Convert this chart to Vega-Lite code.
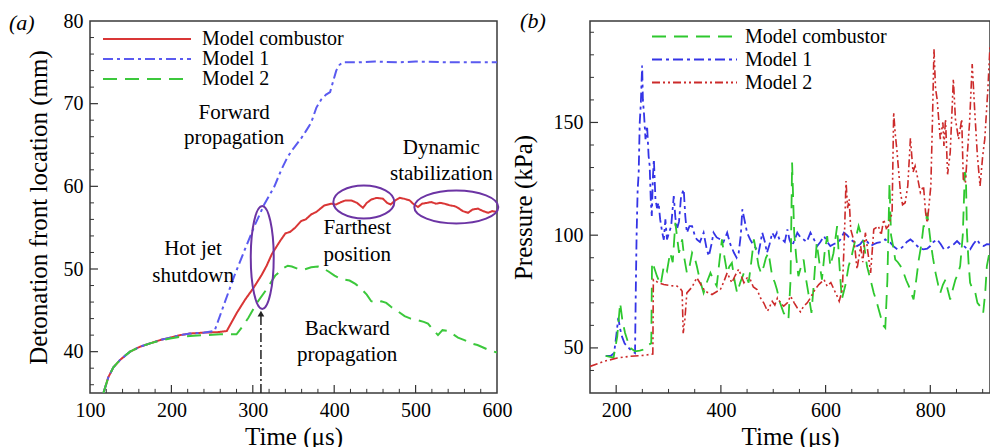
{
  "$schema": "https://vega.github.io/schema/vega-lite/v6.json",
  "padding": {"left": 8, "top": 9, "right": 0, "bottom": 0},
  "config": {
    "font": "Liberation Serif",
    "view": {"stroke": "#3a3a3a", "strokeWidth": 1.5},
    "axis": {
      "grid": false,
      "ticks": false,
      "domain": false,
      "labelFont": "Liberation Serif",
      "labelFontSize": 20,
      "labelColor": "black",
      "labelOverlap": false,
      "labelFlush": false,
      "labelPadding": 7,
      "titleFont": "Liberation Serif",
      "titleFontSize": 25,
      "titleFontWeight": "normal",
      "titleColor": "black"
    },
    "legend": {
      "labelFont": "Liberation Serif",
      "labelFontSize": 20,
      "labelColor": "black",
      "symbolStrokeWidth": 2,
      "symbolType": "stroke",
      "rowPadding": 0,
      "padding": 0
    }
  },
  "datasets": {
    "a_x_major": [{"t": 200}, {"t": 300}, {"t": 400}, {"t": 500}],
    "a_x_minor": [{"t": 120}, {"t": 140}, {"t": 160}, {"t": 180}, {"t": 220}, {"t": 240}, {"t": 260}, {"t": 280}, {"t": 320}, {"t": 340}, {"t": 360}, {"t": 380}, {"t": 420}, {"t": 440}, {"t": 460}, {"t": 480}, {"t": 520}, {"t": 540}, {"t": 560}, {"t": 580}],
    "a_y_major": [{"v": 40}, {"v": 50}, {"v": 60}, {"v": 70}],
    "a_y_minor": [{"v": 36}, {"v": 38}, {"v": 42}, {"v": 44}, {"v": 46}, {"v": 48}, {"v": 52}, {"v": 54}, {"v": 56}, {"v": 58}, {"v": 62}, {"v": 64}, {"v": 66}, {"v": 68}, {"v": 72}, {"v": 74}, {"v": 76}, {"v": 78}],
    "b_x_major": [{"t": 200}, {"t": 400}, {"t": 600}, {"t": 800}],
    "b_x_minor": [{"t": 250}, {"t": 300}, {"t": 350}, {"t": 450}, {"t": 500}, {"t": 550}, {"t": 650}, {"t": 700}, {"t": 750}, {"t": 850}, {"t": 900}],
    "b_y_major": [{"p": 50}, {"p": 100}, {"p": 150}],
    "b_y_minor": [{"p": 40}, {"p": 60}, {"p": 70}, {"p": 80}, {"p": 90}, {"p": 110}, {"p": 120}, {"p": 130}, {"p": 140}, {"p": 160}, {"p": 170}, {"p": 180}, {"p": 190}],
    "front": [
      {"series": "Model combustor", "t": 116.5, "v": 35.0},
      {"series": "Model combustor", "t": 122.5, "v": 36.9},
      {"series": "Model combustor", "t": 128.7, "v": 38.1},
      {"series": "Model combustor", "t": 136.9, "v": 39.0},
      {"series": "Model combustor", "t": 149.2, "v": 40.0},
      {"series": "Model combustor", "t": 161.5, "v": 40.6},
      {"series": "Model combustor", "t": 173.8, "v": 41.0},
      {"series": "Model combustor", "t": 186.1, "v": 41.4},
      {"series": "Model combustor", "t": 198.4, "v": 41.7},
      {"series": "Model combustor", "t": 210.7, "v": 42.0},
      {"series": "Model combustor", "t": 223, "v": 42.2},
      {"series": "Model combustor", "t": 239.4, "v": 42.3},
      {"series": "Model combustor", "t": 255.8, "v": 42.35},
      {"series": "Model combustor", "t": 268, "v": 42.5},
      {"series": "Model combustor", "t": 280.4, "v": 44.7},
      {"series": "Model combustor", "t": 290.6, "v": 46.3},
      {"series": "Model combustor", "t": 300.8, "v": 47.7},
      {"series": "Model combustor", "t": 311, "v": 49.3},
      {"series": "Model combustor", "t": 317, "v": 50.4},
      {"series": "Model combustor", "t": 323.4, "v": 51.8},
      {"series": "Model combustor", "t": 333.6, "v": 53.4},
      {"series": "Model combustor", "t": 340, "v": 54.3},
      {"series": "Model combustor", "t": 346, "v": 54.5},
      {"series": "Model combustor", "t": 352, "v": 55.0},
      {"series": "Model combustor", "t": 359.4, "v": 55.8},
      {"series": "Model combustor", "t": 365, "v": 56.0},
      {"series": "Model combustor", "t": 371.7, "v": 56.6},
      {"series": "Model combustor", "t": 378, "v": 56.9},
      {"series": "Model combustor", "t": 388, "v": 57.7},
      {"series": "Model combustor", "t": 396.3, "v": 57.9},
      {"series": "Model combustor", "t": 402, "v": 57.8},
      {"series": "Model combustor", "t": 408.6, "v": 58.1},
      {"series": "Model combustor", "t": 414, "v": 58.3},
      {"series": "Model combustor", "t": 420.9, "v": 58.3},
      {"series": "Model combustor", "t": 428, "v": 58.0},
      {"series": "Model combustor", "t": 435.3, "v": 57.4},
      {"series": "Model combustor", "t": 440, "v": 58.0},
      {"series": "Model combustor", "t": 445.5, "v": 58.4},
      {"series": "Model combustor", "t": 452, "v": 58.6},
      {"series": "Model combustor", "t": 459.9, "v": 58.5},
      {"series": "Model combustor", "t": 465, "v": 58.0},
      {"series": "Model combustor", "t": 469.3, "v": 57.8},
      {"series": "Model combustor", "t": 475, "v": 58.3},
      {"series": "Model combustor", "t": 480.4, "v": 58.6},
      {"series": "Model combustor", "t": 486, "v": 58.5},
      {"series": "Model combustor", "t": 492.6, "v": 58.3},
      {"series": "Model combustor", "t": 498, "v": 57.8},
      {"series": "Model combustor", "t": 502.9, "v": 57.5},
      {"series": "Model combustor", "t": 508, "v": 57.9},
      {"series": "Model combustor", "t": 514, "v": 58.0},
      {"series": "Model combustor", "t": 519.3, "v": 58.1},
      {"series": "Model combustor", "t": 525, "v": 57.9},
      {"series": "Model combustor", "t": 530, "v": 58.0},
      {"series": "Model combustor", "t": 535.7, "v": 57.9},
      {"series": "Model combustor", "t": 542, "v": 57.7},
      {"series": "Model combustor", "t": 548, "v": 57.6},
      {"series": "Model combustor", "t": 552.1, "v": 57.4},
      {"series": "Model combustor", "t": 558, "v": 57.0},
      {"series": "Model combustor", "t": 564.4, "v": 56.8},
      {"series": "Model combustor", "t": 570, "v": 57.2},
      {"series": "Model combustor", "t": 576.7, "v": 57.3},
      {"series": "Model combustor", "t": 583, "v": 57.0},
      {"series": "Model combustor", "t": 589, "v": 56.8},
      {"series": "Model combustor", "t": 594, "v": 57.0},
      {"series": "Model combustor", "t": 600, "v": 56.9},

      {"series": "Model 1", "t": 116.5, "v": 35.0},
      {"series": "Model 1", "t": 122.5, "v": 36.9},
      {"series": "Model 1", "t": 128.7, "v": 38.1},
      {"series": "Model 1", "t": 136.9, "v": 39.0},
      {"series": "Model 1", "t": 149.2, "v": 40.0},
      {"series": "Model 1", "t": 161.5, "v": 40.6},
      {"series": "Model 1", "t": 173.8, "v": 41.0},
      {"series": "Model 1", "t": 186.1, "v": 41.4},
      {"series": "Model 1", "t": 198.4, "v": 41.7},
      {"series": "Model 1", "t": 210.7, "v": 42.0},
      {"series": "Model 1", "t": 223, "v": 42.2},
      {"series": "Model 1", "t": 239.4, "v": 42.3},
      {"series": "Model 1", "t": 253, "v": 42.5},
      {"series": "Model 1", "t": 265, "v": 45.8},
      {"series": "Model 1", "t": 277.4, "v": 49.2},
      {"series": "Model 1", "t": 290, "v": 52.3},
      {"series": "Model 1", "t": 302, "v": 55.2},
      {"series": "Model 1", "t": 314, "v": 57.8},
      {"series": "Model 1", "t": 326.6, "v": 60.0},
      {"series": "Model 1", "t": 335, "v": 62.0},
      {"series": "Model 1", "t": 343, "v": 63.6},
      {"series": "Model 1", "t": 350, "v": 64.6},
      {"series": "Model 1", "t": 359.4, "v": 65.8},
      {"series": "Model 1", "t": 366, "v": 66.8},
      {"series": "Model 1", "t": 371.7, "v": 67.7},
      {"series": "Model 1", "t": 378, "v": 69.5},
      {"series": "Model 1", "t": 384, "v": 70.5},
      {"series": "Model 1", "t": 390, "v": 71.1},
      {"series": "Model 1", "t": 395, "v": 71.4},
      {"series": "Model 1", "t": 398.4, "v": 72.6},
      {"series": "Model 1", "t": 402.5, "v": 74.0},
      {"series": "Model 1", "t": 406.6, "v": 74.7},
      {"series": "Model 1", "t": 410.7, "v": 75.0},
      {"series": "Model 1", "t": 430, "v": 75.0},
      {"series": "Model 1", "t": 450, "v": 75.1},
      {"series": "Model 1", "t": 480, "v": 75.0},
      {"series": "Model 1", "t": 500, "v": 75.1},
      {"series": "Model 1", "t": 540, "v": 75.0},
      {"series": "Model 1", "t": 570, "v": 75.0},
      {"series": "Model 1", "t": 600, "v": 75.0},

      {"series": "Model 2", "t": 116.5, "v": 35.0},
      {"series": "Model 2", "t": 122.5, "v": 36.9},
      {"series": "Model 2", "t": 128.7, "v": 38.1},
      {"series": "Model 2", "t": 136.9, "v": 39.0},
      {"series": "Model 2", "t": 149.2, "v": 40.0},
      {"series": "Model 2", "t": 161.5, "v": 40.6},
      {"series": "Model 2", "t": 173.8, "v": 41.0},
      {"series": "Model 2", "t": 186.1, "v": 41.35},
      {"series": "Model 2", "t": 198.4, "v": 41.6},
      {"series": "Model 2", "t": 210.7, "v": 41.8},
      {"series": "Model 2", "t": 223, "v": 41.9},
      {"series": "Model 2", "t": 240, "v": 42.0},
      {"series": "Model 2", "t": 260, "v": 42.1},
      {"series": "Model 2", "t": 280, "v": 42.1},
      {"series": "Model 2", "t": 287, "v": 43.0},
      {"series": "Model 2", "t": 294.6, "v": 44.1},
      {"series": "Model 2", "t": 305, "v": 45.9},
      {"series": "Model 2", "t": 317.3, "v": 47.6},
      {"series": "Model 2", "t": 327.5, "v": 49.2},
      {"series": "Model 2", "t": 337.7, "v": 50.1},
      {"series": "Model 2", "t": 343, "v": 50.4},
      {"series": "Model 2", "t": 348, "v": 50.3},
      {"series": "Model 2", "t": 356, "v": 50.0},
      {"series": "Model 2", "t": 362, "v": 49.9},
      {"series": "Model 2", "t": 371.7, "v": 50.2},
      {"series": "Model 2", "t": 380, "v": 50.3},
      {"series": "Model 2", "t": 386, "v": 50.1},
      {"series": "Model 2", "t": 393, "v": 49.7},
      {"series": "Model 2", "t": 400.4, "v": 49.2},
      {"series": "Model 2", "t": 408, "v": 48.8},
      {"series": "Model 2", "t": 418.9, "v": 48.6},
      {"series": "Model 2", "t": 426, "v": 48.2},
      {"series": "Model 2", "t": 433.2, "v": 47.6},
      {"series": "Model 2", "t": 440, "v": 46.9},
      {"series": "Model 2", "t": 445.5, "v": 46.1},
      {"series": "Model 2", "t": 452, "v": 45.9},
      {"series": "Model 2", "t": 458, "v": 46.1},
      {"series": "Model 2", "t": 464, "v": 45.9},
      {"series": "Model 2", "t": 470.1, "v": 45.4},
      {"series": "Model 2", "t": 478, "v": 44.9},
      {"series": "Model 2", "t": 486.5, "v": 44.3},
      {"series": "Model 2", "t": 494, "v": 44.0},
      {"series": "Model 2", "t": 502.9, "v": 43.8},
      {"series": "Model 2", "t": 510, "v": 43.6},
      {"series": "Model 2", "t": 515.2, "v": 43.4},
      {"series": "Model 2", "t": 521, "v": 42.7},
      {"series": "Model 2", "t": 527.5, "v": 42.0},
      {"series": "Model 2", "t": 533, "v": 42.6},
      {"series": "Model 2", "t": 539.8, "v": 42.5},
      {"series": "Model 2", "t": 546, "v": 42.1},
      {"series": "Model 2", "t": 552.1, "v": 41.7},
      {"series": "Model 2", "t": 560, "v": 41.4},
      {"series": "Model 2", "t": 568.5, "v": 41.0},
      {"series": "Model 2", "t": 576, "v": 40.8},
      {"series": "Model 2", "t": 583, "v": 40.5},
      {"series": "Model 2", "t": 590, "v": 40.2},
      {"series": "Model 2", "t": 600, "v": 39.9}
    ],
    "notes": [
      {"t": 277, "v": 68.9, "text": "Forward"},
      {"t": 277, "v": 65.8, "text": "propagation"},
      {"t": 226.6, "v": 52.4, "text": "Hot jet"},
      {"t": 226.6, "v": 49.2, "text": "shutdown"},
      {"t": 428.3, "v": 54.9, "text": "Farthest"},
      {"t": 428.3, "v": 51.7, "text": "position"},
      {"t": 531.6, "v": 64.6, "text": "Dynamic"},
      {"t": 531.6, "v": 61.5, "text": "stabilization"},
      {"t": 416, "v": 42.7, "text": "Backward"},
      {"t": 416, "v": 39.6, "text": "propagation"}
    ],
    "regions": [
      {"region": "shutdown", "t": 311.6, "v": 51.4},
      {"region": "farthest", "t": 436.4, "v": 58.1},
      {"region": "stabilization", "t": 550, "v": 57.5}
    ],
    "marker": [
      {"t": 310, "v0": 35, "v1": 44.6}
    ],
    "pressure": [
      {"series": "Model 1", "t": 180, "p": 46.5},
      {"series": "Model 1", "t": 190, "p": 46.5},
      {"series": "Model 1", "t": 196, "p": 47.7},
      {"series": "Model 1", "t": 200, "p": 55},
      {"series": "Model 1", "t": 204, "p": 63.3},
      {"series": "Model 1", "t": 208, "p": 58},
      {"series": "Model 1", "t": 211, "p": 55.1},
      {"series": "Model 1", "t": 216, "p": 52},
      {"series": "Model 1", "t": 221, "p": 50.7},
      {"series": "Model 1", "t": 226, "p": 49.5},
      {"series": "Model 1", "t": 231, "p": 48.5},
      {"series": "Model 1", "t": 236, "p": 47.7},
      {"series": "Model 1", "t": 237.5, "p": 76},
      {"series": "Model 1", "t": 239, "p": 100},
      {"series": "Model 1", "t": 241, "p": 120},
      {"series": "Model 1", "t": 243, "p": 127.7},
      {"series": "Model 1", "t": 245, "p": 150},
      {"series": "Model 1", "t": 247, "p": 158},
      {"series": "Model 1", "t": 249.6, "p": 175.2},
      {"series": "Model 1", "t": 251, "p": 160},
      {"series": "Model 1", "t": 253, "p": 154.4},
      {"series": "Model 1", "t": 256, "p": 142.6},
      {"series": "Model 1", "t": 259, "p": 148.5},
      {"series": "Model 1", "t": 262, "p": 135},
      {"series": "Model 1", "t": 264, "p": 130.7},
      {"series": "Model 1", "t": 266, "p": 116},
      {"series": "Model 1", "t": 268, "p": 108.5},
      {"series": "Model 1", "t": 270, "p": 125},
      {"series": "Model 1", "t": 272, "p": 133.7},
      {"series": "Model 1", "t": 275, "p": 115.9},
      {"series": "Model 1", "t": 278, "p": 112},
      {"series": "Model 1", "t": 281, "p": 114.4},
      {"series": "Model 1", "t": 284, "p": 107},
      {"series": "Model 1", "t": 288, "p": 101.1},
      {"series": "Model 1", "t": 291, "p": 98},
      {"series": "Model 1", "t": 294, "p": 107.0},
      {"series": "Model 1", "t": 297, "p": 98.1},
      {"series": "Model 1", "t": 301, "p": 101.1},
      {"series": "Model 1", "t": 305, "p": 104},
      {"series": "Model 1", "t": 310, "p": 117.4},
      {"series": "Model 1", "t": 313, "p": 108},
      {"series": "Model 1", "t": 316, "p": 102.6},
      {"series": "Model 1", "t": 320, "p": 106},
      {"series": "Model 1", "t": 324, "p": 117.4},
      {"series": "Model 1", "t": 329, "p": 120.3},
      {"series": "Model 1", "t": 332, "p": 108.5},
      {"series": "Model 1", "t": 335, "p": 101.1},
      {"series": "Model 1", "t": 340, "p": 104},
      {"series": "Model 1", "t": 345, "p": 104.0},
      {"series": "Model 1", "t": 350, "p": 100},
      {"series": "Model 1", "t": 354, "p": 98.1},
      {"series": "Model 1", "t": 360, "p": 97},
      {"series": "Model 1", "t": 367, "p": 101.1},
      {"series": "Model 1", "t": 373, "p": 93.7},
      {"series": "Model 1", "t": 377, "p": 90.7},
      {"series": "Model 1", "t": 382, "p": 96},
      {"series": "Model 1", "t": 386, "p": 101.1},
      {"series": "Model 1", "t": 392, "p": 99},
      {"series": "Model 1", "t": 399, "p": 98.1},
      {"series": "Model 1", "t": 405, "p": 97},
      {"series": "Model 1", "t": 412, "p": 101.1},
      {"series": "Model 1", "t": 418, "p": 96},
      {"series": "Model 1", "t": 425, "p": 92.2},
      {"series": "Model 1", "t": 430, "p": 90},
      {"series": "Model 1", "t": 434, "p": 92.2},
      {"series": "Model 1", "t": 438, "p": 100},
      {"series": "Model 1", "t": 441, "p": 111.5},
      {"series": "Model 1", "t": 444, "p": 108},
      {"series": "Model 1", "t": 450, "p": 101.1},
      {"series": "Model 1", "t": 456, "p": 98},
      {"series": "Model 1", "t": 463, "p": 95.2},
      {"series": "Model 1", "t": 468, "p": 94},
      {"series": "Model 1", "t": 472, "p": 92.2},
      {"series": "Model 1", "t": 476, "p": 97},
      {"series": "Model 1", "t": 479, "p": 101.1},
      {"series": "Model 1", "t": 484, "p": 97},
      {"series": "Model 1", "t": 488, "p": 92.2},
      {"series": "Model 1", "t": 493, "p": 96},
      {"series": "Model 1", "t": 498, "p": 101.1},
      {"series": "Model 1", "t": 503, "p": 99},
      {"series": "Model 1", "t": 507, "p": 101.1},
      {"series": "Model 1", "t": 512, "p": 98},
      {"series": "Model 1", "t": 517, "p": 98.1},
      {"series": "Model 1", "t": 522, "p": 97},
      {"series": "Model 1", "t": 527, "p": 102.6},
      {"series": "Model 1", "t": 531, "p": 98},
      {"series": "Model 1", "t": 536, "p": 95.2},
      {"series": "Model 1", "t": 541, "p": 98},
      {"series": "Model 1", "t": 546, "p": 101.1},
      {"series": "Model 1", "t": 552, "p": 99},
      {"series": "Model 1", "t": 558, "p": 98.1},
      {"series": "Model 1", "t": 564, "p": 97},
      {"series": "Model 1", "t": 571, "p": 101.1},
      {"series": "Model 1", "t": 578, "p": 98},
      {"series": "Model 1", "t": 584, "p": 95.2},
      {"series": "Model 1", "t": 590, "p": 97},
      {"series": "Model 1", "t": 597, "p": 99.6},
      {"series": "Model 1", "t": 603, "p": 97},
      {"series": "Model 1", "t": 609, "p": 95.2},
      {"series": "Model 1", "t": 615, "p": 96},
      {"series": "Model 1", "t": 622, "p": 96.6},
      {"series": "Model 1", "t": 628, "p": 98},
      {"series": "Model 1", "t": 635, "p": 101.1},
      {"series": "Model 1", "t": 641, "p": 100},
      {"series": "Model 1", "t": 648, "p": 98.1},
      {"series": "Model 1", "t": 654, "p": 97},
      {"series": "Model 1", "t": 660, "p": 95.2},
      {"series": "Model 1", "t": 666, "p": 96},
      {"series": "Model 1", "t": 673, "p": 98.1},
      {"series": "Model 1", "t": 680, "p": 97},
      {"series": "Model 1", "t": 686, "p": 95.2},
      {"series": "Model 1", "t": 692, "p": 96},
      {"series": "Model 1", "t": 698, "p": 96.6},
      {"series": "Model 1", "t": 706, "p": 97},
      {"series": "Model 1", "t": 714, "p": 98.1},
      {"series": "Model 1", "t": 719, "p": 97},
      {"series": "Model 1", "t": 724, "p": 96.6},
      {"series": "Model 1", "t": 730, "p": 95},
      {"series": "Model 1", "t": 737, "p": 93.7},
      {"series": "Model 1", "t": 743, "p": 94},
      {"series": "Model 1", "t": 749, "p": 95.2},
      {"series": "Model 1", "t": 755, "p": 97},
      {"series": "Model 1", "t": 762, "p": 98.1},
      {"series": "Model 1", "t": 768, "p": 97},
      {"series": "Model 1", "t": 775, "p": 95.2},
      {"series": "Model 1", "t": 781, "p": 94},
      {"series": "Model 1", "t": 787, "p": 93.7},
      {"series": "Model 1", "t": 794, "p": 94},
      {"series": "Model 1", "t": 800, "p": 95.2},
      {"series": "Model 1", "t": 806, "p": 97},
      {"series": "Model 1", "t": 813, "p": 98.1},
      {"series": "Model 1", "t": 820, "p": 96},
      {"series": "Model 1", "t": 826, "p": 93.7},
      {"series": "Model 1", "t": 832, "p": 94},
      {"series": "Model 1", "t": 838, "p": 95.2},
      {"series": "Model 1", "t": 845, "p": 96},
      {"series": "Model 1", "t": 851, "p": 97.4},
      {"series": "Model 1", "t": 857, "p": 96},
      {"series": "Model 1", "t": 864, "p": 95.2},
      {"series": "Model 1", "t": 870, "p": 94},
      {"series": "Model 1", "t": 876, "p": 93.7},
      {"series": "Model 1", "t": 882, "p": 96},
      {"series": "Model 1", "t": 889, "p": 98.1},
      {"series": "Model 1", "t": 895, "p": 96},
      {"series": "Model 1", "t": 902, "p": 95.2},
      {"series": "Model 1", "t": 908, "p": 96},
      {"series": "Model 1", "t": 914, "p": 95.9},

      {"series": "Model combustor", "t": 180, "p": 46.5},
      {"series": "Model combustor", "t": 195, "p": 45.7},
      {"series": "Model combustor", "t": 202, "p": 55},
      {"series": "Model combustor", "t": 207.6, "p": 70},
      {"series": "Model combustor", "t": 212, "p": 62},
      {"series": "Model combustor", "t": 217, "p": 56.6},
      {"series": "Model combustor", "t": 222, "p": 53},
      {"series": "Model combustor", "t": 226.7, "p": 50},
      {"series": "Model combustor", "t": 236, "p": 48.5},
      {"series": "Model combustor", "t": 245, "p": 48.8},
      {"series": "Model combustor", "t": 252, "p": 49.2},
      {"series": "Model combustor", "t": 261.7, "p": 51.4},
      {"series": "Model combustor", "t": 267, "p": 52},
      {"series": "Model combustor", "t": 268.5, "p": 88},
      {"series": "Model combustor", "t": 272, "p": 86},
      {"series": "Model combustor", "t": 278, "p": 81.8},
      {"series": "Model combustor", "t": 285, "p": 78},
      {"series": "Model combustor", "t": 291, "p": 86.3},
      {"series": "Model combustor", "t": 297, "p": 84},
      {"series": "Model combustor", "t": 303, "p": 92.2},
      {"series": "Model combustor", "t": 308, "p": 88},
      {"series": "Model combustor", "t": 313, "p": 105.5},
      {"series": "Model combustor", "t": 320, "p": 92.2},
      {"series": "Model combustor", "t": 326, "p": 98.1},
      {"series": "Model combustor", "t": 330, "p": 90},
      {"series": "Model combustor", "t": 335, "p": 83.3},
      {"series": "Model combustor", "t": 340, "p": 86},
      {"series": "Model combustor", "t": 345, "p": 92.2},
      {"series": "Model combustor", "t": 350, "p": 90},
      {"series": "Model combustor", "t": 354, "p": 86.3},
      {"series": "Model combustor", "t": 360, "p": 80},
      {"series": "Model combustor", "t": 367, "p": 74.4},
      {"series": "Model combustor", "t": 373, "p": 79},
      {"series": "Model combustor", "t": 380, "p": 83.3},
      {"series": "Model combustor", "t": 386, "p": 80},
      {"series": "Model combustor", "t": 392, "p": 77.4},
      {"series": "Model combustor", "t": 397, "p": 88},
      {"series": "Model combustor", "t": 402, "p": 98.1},
      {"series": "Model combustor", "t": 407, "p": 90},
      {"series": "Model combustor", "t": 412, "p": 83.3},
      {"series": "Model combustor", "t": 416, "p": 86},
      {"series": "Model combustor", "t": 421, "p": 87.7},
      {"series": "Model combustor", "t": 426, "p": 80},
      {"series": "Model combustor", "t": 431, "p": 74.4},
      {"series": "Model combustor", "t": 437, "p": 79},
      {"series": "Model combustor", "t": 444, "p": 83.3},
      {"series": "Model combustor", "t": 448, "p": 82},
      {"series": "Model combustor", "t": 453, "p": 78.9},
      {"series": "Model combustor", "t": 458, "p": 88},
      {"series": "Model combustor", "t": 463, "p": 98.1},
      {"series": "Model combustor", "t": 468, "p": 92},
      {"series": "Model combustor", "t": 472, "p": 86.3},
      {"series": "Model combustor", "t": 477, "p": 83},
      {"series": "Model combustor", "t": 482, "p": 86.3},
      {"series": "Model combustor", "t": 486, "p": 90},
      {"series": "Model combustor", "t": 491, "p": 92.2},
      {"series": "Model combustor", "t": 498, "p": 81.8},
      {"series": "Model combustor", "t": 503, "p": 79},
      {"series": "Model combustor", "t": 507, "p": 75.9},
      {"series": "Model combustor", "t": 513, "p": 70},
      {"series": "Model combustor", "t": 520, "p": 65.5},
      {"series": "Model combustor", "t": 525, "p": 64},
      {"series": "Model combustor", "t": 529, "p": 62.6},
      {"series": "Model combustor", "t": 533, "p": 80},
      {"series": "Model combustor", "t": 536, "p": 132.2},
      {"series": "Model combustor", "t": 540, "p": 101.1},
      {"series": "Model combustor", "t": 544, "p": 90},
      {"series": "Model combustor", "t": 548, "p": 81.8},
      {"series": "Model combustor", "t": 553, "p": 86},
      {"series": "Model combustor", "t": 558, "p": 89.2},
      {"series": "Model combustor", "t": 563, "p": 80},
      {"series": "Model combustor", "t": 567, "p": 74.4},
      {"series": "Model combustor", "t": 573, "p": 65.5},
      {"series": "Model combustor", "t": 578, "p": 80},
      {"series": "Model combustor", "t": 583, "p": 96.6},
      {"series": "Model combustor", "t": 588, "p": 88},
      {"series": "Model combustor", "t": 593, "p": 80.3},
      {"series": "Model combustor", "t": 598, "p": 92},
      {"series": "Model combustor", "t": 603, "p": 99.6},
      {"series": "Model combustor", "t": 609, "p": 86.3},
      {"series": "Model combustor", "t": 615, "p": 92},
      {"series": "Model combustor", "t": 622, "p": 104.0},
      {"series": "Model combustor", "t": 626, "p": 88},
      {"series": "Model combustor", "t": 631, "p": 71.5},
      {"series": "Model combustor", "t": 638, "p": 78},
      {"series": "Model combustor", "t": 644, "p": 86.3},
      {"series": "Model combustor", "t": 649, "p": 90},
      {"series": "Model combustor", "t": 654, "p": 95.2},
      {"series": "Model combustor", "t": 659, "p": 100},
      {"series": "Model combustor", "t": 663, "p": 104.0},
      {"series": "Model combustor", "t": 668, "p": 100},
      {"series": "Model combustor", "t": 673, "p": 96.6},
      {"series": "Model combustor", "t": 679, "p": 86.3},
      {"series": "Model combustor", "t": 686, "p": 80},
      {"series": "Model combustor", "t": 692, "p": 74.4},
      {"series": "Model combustor", "t": 698, "p": 70},
      {"series": "Model combustor", "t": 705, "p": 64.0},
      {"series": "Model combustor", "t": 710, "p": 60},
      {"series": "Model combustor", "t": 714, "p": 58.9},
      {"series": "Model combustor", "t": 718, "p": 80},
      {"series": "Model combustor", "t": 722, "p": 123},
      {"series": "Model combustor", "t": 725, "p": 100},
      {"series": "Model combustor", "t": 729, "p": 95},
      {"series": "Model combustor", "t": 733, "p": 89.2},
      {"series": "Model combustor", "t": 738, "p": 88},
      {"series": "Model combustor", "t": 743, "p": 86.3},
      {"series": "Model combustor", "t": 749, "p": 83.3},
      {"series": "Model combustor", "t": 754, "p": 80},
      {"series": "Model combustor", "t": 759, "p": 77.4},
      {"series": "Model combustor", "t": 764, "p": 74},
      {"series": "Model combustor", "t": 768, "p": 71.5},
      {"series": "Model combustor", "t": 773, "p": 80},
      {"series": "Model combustor", "t": 778, "p": 89.2},
      {"series": "Model combustor", "t": 783, "p": 96},
      {"series": "Model combustor", "t": 787, "p": 104.0},
      {"series": "Model combustor", "t": 791, "p": 104},
      {"series": "Model combustor", "t": 794, "p": 110.0},
      {"series": "Model combustor", "t": 797, "p": 104},
      {"series": "Model combustor", "t": 800, "p": 98.1},
      {"series": "Model combustor", "t": 805, "p": 90},
      {"series": "Model combustor", "t": 810, "p": 83.3},
      {"series": "Model combustor", "t": 815, "p": 78},
      {"series": "Model combustor", "t": 819, "p": 74.4},
      {"series": "Model combustor", "t": 824, "p": 78},
      {"series": "Model combustor", "t": 829, "p": 80.3},
      {"series": "Model combustor", "t": 833, "p": 76},
      {"series": "Model combustor", "t": 838, "p": 71.5},
      {"series": "Model combustor", "t": 843, "p": 76},
      {"series": "Model combustor", "t": 848, "p": 80.3},
      {"series": "Model combustor", "t": 853, "p": 83},
      {"series": "Model combustor", "t": 857, "p": 86.3},
      {"series": "Model combustor", "t": 862, "p": 100},
      {"series": "Model combustor", "t": 866, "p": 128},
      {"series": "Model combustor", "t": 868, "p": 126},
      {"series": "Model combustor", "t": 870, "p": 101.1},
      {"series": "Model combustor", "t": 873, "p": 88},
      {"series": "Model combustor", "t": 876, "p": 78.9},
      {"series": "Model combustor", "t": 881, "p": 76},
      {"series": "Model combustor", "t": 886, "p": 74.4},
      {"series": "Model combustor", "t": 890, "p": 70},
      {"series": "Model combustor", "t": 895, "p": 68.5},
      {"series": "Model combustor", "t": 901, "p": 65.5},
      {"series": "Model combustor", "t": 905, "p": 75},
      {"series": "Model combustor", "t": 908, "p": 86.3},
      {"series": "Model combustor", "t": 914, "p": 93.7},

      {"series": "Model 2", "t": 150, "p": 41.8},
      {"series": "Model 2", "t": 176, "p": 44.0},
      {"series": "Model 2", "t": 202, "p": 45.5},
      {"series": "Model 2", "t": 227, "p": 46.3},
      {"series": "Model 2", "t": 253, "p": 46.7},
      {"series": "Model 2", "t": 270, "p": 47.3},
      {"series": "Model 2", "t": 271, "p": 80.3},
      {"series": "Model 2", "t": 280, "p": 79.0},
      {"series": "Model 2", "t": 291, "p": 78.1},
      {"series": "Model 2", "t": 305, "p": 77.6},
      {"series": "Model 2", "t": 316, "p": 77.4},
      {"series": "Model 2", "t": 322, "p": 76.5},
      {"series": "Model 2", "t": 326, "p": 75.1},
      {"series": "Model 2", "t": 328, "p": 56.5},
      {"series": "Model 2", "t": 331, "p": 62},
      {"series": "Model 2", "t": 335, "p": 74.4},
      {"series": "Model 2", "t": 345, "p": 77},
      {"series": "Model 2", "t": 354, "p": 81.1},
      {"series": "Model 2", "t": 362, "p": 78},
      {"series": "Model 2", "t": 370, "p": 75.1},
      {"series": "Model 2", "t": 383, "p": 73.7},
      {"series": "Model 2", "t": 399, "p": 75.9},
      {"series": "Model 2", "t": 405, "p": 79},
      {"series": "Model 2", "t": 412, "p": 83.3},
      {"series": "Model 2", "t": 421, "p": 78.9},
      {"series": "Model 2", "t": 427, "p": 82},
      {"series": "Model 2", "t": 434, "p": 84.9},
      {"series": "Model 2", "t": 444, "p": 78.9},
      {"series": "Model 2", "t": 450, "p": 81},
      {"series": "Model 2", "t": 456, "p": 80.4},
      {"series": "Model 2", "t": 462, "p": 77},
      {"series": "Model 2", "t": 469, "p": 75.9},
      {"series": "Model 2", "t": 476, "p": 72},
      {"series": "Model 2", "t": 482, "p": 69.9},
      {"series": "Model 2", "t": 489, "p": 66.3},
      {"series": "Model 2", "t": 498, "p": 70.7},
      {"series": "Model 2", "t": 503, "p": 69},
      {"series": "Model 2", "t": 508, "p": 72.2},
      {"series": "Model 2", "t": 514, "p": 70},
      {"series": "Model 2", "t": 520, "p": 68.5},
      {"series": "Model 2", "t": 527, "p": 70},
      {"series": "Model 2", "t": 533, "p": 73.0},
      {"series": "Model 2", "t": 540, "p": 70},
      {"series": "Model 2", "t": 546, "p": 67.7},
      {"series": "Model 2", "t": 552, "p": 66},
      {"series": "Model 2", "t": 558, "p": 68.5},
      {"series": "Model 2", "t": 565, "p": 70},
      {"series": "Model 2", "t": 571, "p": 72.2},
      {"series": "Model 2", "t": 580, "p": 76},
      {"series": "Model 2", "t": 587, "p": 78.1},
      {"series": "Model 2", "t": 597, "p": 80.3},
      {"series": "Model 2", "t": 603, "p": 77.4},
      {"series": "Model 2", "t": 610, "p": 79},
      {"series": "Model 2", "t": 616, "p": 75.9},
      {"series": "Model 2", "t": 622, "p": 73},
      {"series": "Model 2", "t": 626, "p": 70.7},
      {"series": "Model 2", "t": 632, "p": 75.9},
      {"series": "Model 2", "t": 636, "p": 100},
      {"series": "Model 2", "t": 639, "p": 124.0},
      {"series": "Model 2", "t": 642, "p": 112},
      {"series": "Model 2", "t": 645, "p": 115.9},
      {"series": "Model 2", "t": 648, "p": 102.6},
      {"series": "Model 2", "t": 655, "p": 96.6},
      {"series": "Model 2", "t": 660, "p": 84.9},
      {"series": "Model 2", "t": 667, "p": 95.2},
      {"series": "Model 2", "t": 671, "p": 88},
      {"series": "Model 2", "t": 676, "p": 101.1},
      {"series": "Model 2", "t": 681, "p": 92},
      {"series": "Model 2", "t": 686, "p": 83.3},
      {"series": "Model 2", "t": 692, "p": 102.6},
      {"series": "Model 2", "t": 701, "p": 104.0},
      {"series": "Model 2", "t": 706, "p": 100},
      {"series": "Model 2", "t": 711, "p": 107.0},
      {"series": "Model 2", "t": 716, "p": 103},
      {"series": "Model 2", "t": 720, "p": 104.0},
      {"series": "Model 2", "t": 727, "p": 110.0},
      {"series": "Model 2", "t": 730, "p": 154.4},
      {"series": "Model 2", "t": 733, "p": 145},
      {"series": "Model 2", "t": 736, "p": 138.1},
      {"series": "Model 2", "t": 743, "p": 118.9},
      {"series": "Model 2", "t": 747, "p": 113.5},
      {"series": "Model 2", "t": 752, "p": 114.4},
      {"series": "Model 2", "t": 757, "p": 122},
      {"series": "Model 2", "t": 762, "p": 143},
      {"series": "Model 2", "t": 767, "p": 128},
      {"series": "Model 2", "t": 771, "p": 130.7},
      {"series": "Model 2", "t": 775, "p": 126.3},
      {"series": "Model 2", "t": 781, "p": 118.9},
      {"series": "Model 2", "t": 787, "p": 121.8},
      {"series": "Model 2", "t": 791, "p": 110},
      {"series": "Model 2", "t": 794, "p": 105.5},
      {"series": "Model 2", "t": 797, "p": 112},
      {"series": "Model 2", "t": 801, "p": 121.8},
      {"series": "Model 2", "t": 804, "p": 150},
      {"series": "Model 2", "t": 807, "p": 182.6},
      {"series": "Model 2", "t": 810, "p": 165},
      {"series": "Model 2", "t": 813, "p": 160.3},
      {"series": "Model 2", "t": 819, "p": 142.6},
      {"series": "Model 2", "t": 824, "p": 150},
      {"series": "Model 2", "t": 826, "p": 139.6},
      {"series": "Model 2", "t": 829, "p": 151.4},
      {"series": "Model 2", "t": 833, "p": 127},
      {"series": "Model 2", "t": 838, "p": 136.6},
      {"series": "Model 2", "t": 844, "p": 169.2},
      {"series": "Model 2", "t": 848, "p": 151.4},
      {"series": "Model 2", "t": 854, "p": 142.6},
      {"series": "Model 2", "t": 860, "p": 151.4},
      {"series": "Model 2", "t": 863, "p": 124.8},
      {"series": "Model 2", "t": 867, "p": 123.3},
      {"series": "Model 2", "t": 870, "p": 133.7},
      {"series": "Model 2", "t": 875, "p": 150},
      {"series": "Model 2", "t": 880, "p": 175.9},
      {"series": "Model 2", "t": 885, "p": 154.4},
      {"series": "Model 2", "t": 890, "p": 135},
      {"series": "Model 2", "t": 895, "p": 121.8},
      {"series": "Model 2", "t": 900, "p": 135},
      {"series": "Model 2", "t": 904, "p": 142.6},
      {"series": "Model 2", "t": 910, "p": 165},
      {"series": "Model 2", "t": 914, "p": 184}
    ]
  },
  "resolve": {
    "scale": {"x": "independent", "y": "independent", "color": "independent", "strokeDash": "independent"},
    "legend": {"color": "independent", "strokeDash": "independent"}
  },
  "spacing": -3,
  "hconcat": [
    {
      "width": 407,
      "height": 372,
      "resolve": {"axis": {"x": "independent", "y": "independent"}},
      "layer": [
        {
          "data": {"name": "a_x_major"},
          "mark": {"type": "rule", "color": "#333", "strokeWidth": 1.2},
          "encoding": {
            "x": {"field": "t", "type": "quantitative", "axis": null},
            "y": {"datum": 35, "type": "quantitative", "axis": null},
            "y2": {"datum": 35.97}
          }
        },
        {
          "data": {"name": "a_x_minor"},
          "mark": {"type": "rule", "color": "#333", "strokeWidth": 1},
          "encoding": {
            "x": {"field": "t", "type": "quantitative", "axis": null},
            "y": {"datum": 35, "type": "quantitative", "axis": null},
            "y2": {"datum": 35.5}
          }
        },
        {
          "data": {"name": "a_y_major"},
          "mark": {"type": "rule", "color": "#333", "strokeWidth": 1.2},
          "encoding": {
            "y": {"field": "v", "type": "quantitative", "axis": null},
            "x": {"datum": 100, "type": "quantitative", "axis": null},
            "x2": {"datum": 109.8}
          }
        },
        {
          "data": {"name": "a_y_minor"},
          "mark": {"type": "rule", "color": "#333", "strokeWidth": 1},
          "encoding": {
            "y": {"field": "v", "type": "quantitative", "axis": null},
            "x": {"datum": 100, "type": "quantitative", "axis": null},
            "x2": {"datum": 104.9}
          }
        },
        {
          "data": {"name": "front"},
          "mark": {"type": "line", "strokeWidth": 2, "clip": true},
          "encoding": {
            "x": {
              "field": "t", "type": "quantitative",
              "scale": {"domain": [100, 600], "nice": false, "zero": false},
              "axis": {"title": "Time (μs)", "orient": "bottom", "values": [100, 200, 300, 400, 500, 600], "titlePadding": 4}
            },
            "y": {
              "field": "v", "type": "quantitative",
              "scale": {"domain": [35, 80], "nice": false, "zero": false},
              "axis": {"title": "Detonation front location (mm)", "orient": "left", "values": [40, 50, 60, 70, 80], "titlePadding": 12}
            },
            "color": {
              "field": "series", "type": "nominal",
              "scale": {"domain": ["Model combustor", "Model 1", "Model 2"], "range": ["#d93636", "#5a5af0", "#3cc83c"]},
              "legend": {"title": null, "orient": "none", "legendX": 12, "legendY": 9, "symbolSize": 7744, "clipHeight": 18, "rowPadding": 0, "labelOffset": 10}
            },
            "strokeDash": {
              "field": "series", "type": "nominal",
              "scale": {"domain": ["Model combustor", "Model 1", "Model 2"], "range": [[1, 0], [10, 4, 3, 4], [14, 8]]},
              "legend": {"title": null, "orient": "none", "legendX": 12, "legendY": 9, "symbolSize": 7744, "clipHeight": 18, "rowPadding": 0, "labelOffset": 10}
            }
          }
        },
        {
          "data": {"name": "regions"},
          "transform": [{"filter": "datum.region === 'shutdown'"}],
          "mark": {"type": "point", "filled": false, "stroke": "#6c34a4", "strokeWidth": 2, "opacity": 1, "size": 10609,
                   "shape": "M -0.223 0 C -0.223 -0.552 -0.123 -1 0 -1 C 0.123 -1 0.223 -0.552 0.223 0 C 0.223 0.552 0.123 1 0 1 C -0.123 1 -0.223 0.552 -0.223 0 Z"},
          "encoding": {
            "x": {"field": "t", "type": "quantitative", "axis": null},
            "y": {"field": "v", "type": "quantitative", "axis": null}
          }
        },
        {
          "data": {"name": "regions"},
          "transform": [{"filter": "datum.region === 'farthest'"}],
          "mark": {"type": "point", "filled": false, "stroke": "#6c34a4", "strokeWidth": 2, "opacity": 1, "size": 3721,
                   "shape": "M -1 0 C -1 -0.299 -0.552 -0.541 0 -0.541 C 0.552 -0.541 1 -0.299 1 0 C 1 0.299 0.552 0.541 0 0.541 C -0.552 0.541 -1 0.299 -1 0 Z"},
          "encoding": {
            "x": {"field": "t", "type": "quantitative", "axis": null},
            "y": {"field": "v", "type": "quantitative", "axis": null}
          }
        },
        {
          "data": {"name": "regions"},
          "transform": [{"filter": "datum.region === 'stabilization'"}],
          "mark": {"type": "point", "filled": false, "stroke": "#6c34a4", "strokeWidth": 2, "opacity": 1, "size": 7056,
                   "shape": "M -1 0 C -1 -0.217 -0.552 -0.393 0 -0.393 C 0.552 -0.393 1 -0.217 1 0 C 1 0.217 0.552 0.393 0 0.393 C -0.552 0.393 -1 0.217 -1 0 Z"},
          "encoding": {
            "x": {"field": "t", "type": "quantitative", "axis": null},
            "y": {"field": "v", "type": "quantitative", "axis": null}
          }
        },
        {
          "data": {"name": "marker"},
          "mark": {"type": "rule", "color": "#222", "strokeWidth": 1.5, "strokeDash": [9, 3, 2, 3]},
          "encoding": {
            "x": {"field": "t", "type": "quantitative", "axis": null},
            "y": {"field": "v0", "type": "quantitative", "axis": null},
            "y2": {"field": "v1"}
          }
        },
        {
          "data": {"name": "marker"},
          "mark": {"type": "point", "shape": "triangle-up", "filled": true, "color": "#222", "size": 45, "opacity": 1},
          "encoding": {
            "x": {"field": "t", "type": "quantitative", "axis": null},
            "y": {"field": "v1", "type": "quantitative", "axis": null}
          }
        },
        {
          "data": {"values": [{"panel": "(a)"}]},
          "mark": {"type": "text", "font": "Liberation Serif", "fontSize": 22, "fontStyle": "italic", "color": "black", "align": "left", "baseline": "middle"},
          "encoding": {
            "x": {"datum": 0.4, "type": "quantitative", "axis": null},
            "y": {"datum": 79.7, "type": "quantitative", "axis": null},
            "text": {"field": "panel"}
          }
        },
        {
          "data": {"name": "notes"},
          "mark": {"type": "text", "font": "Liberation Serif", "fontSize": 21, "color": "black", "align": "center", "baseline": "middle"},
          "encoding": {
            "x": {"field": "t", "type": "quantitative", "axis": null},
            "y": {"field": "v", "type": "quantitative", "axis": null},
            "text": {"field": "text"}
          }
        }
      ]
    },
    {
      "width": 400,
      "height": 372,
      "resolve": {"axis": {"x": "independent", "y": "independent"}},
      "layer": [
        {
          "data": {"name": "b_x_major"},
          "mark": {"type": "rule", "color": "#333", "strokeWidth": 1.2},
          "encoding": {
            "x": {"field": "t", "type": "quantitative", "axis": null},
            "y": {"datum": 30, "type": "quantitative", "axis": null},
            "y2": {"datum": 33.55}
          }
        },
        {
          "data": {"name": "b_x_minor"},
          "mark": {"type": "rule", "color": "#333", "strokeWidth": 1},
          "encoding": {
            "x": {"field": "t", "type": "quantitative", "axis": null},
            "y": {"datum": 30, "type": "quantitative", "axis": null},
            "y2": {"datum": 31.8}
          }
        },
        {
          "data": {"name": "b_y_major"},
          "mark": {"type": "rule", "color": "#333", "strokeWidth": 1.2},
          "encoding": {
            "y": {"field": "p", "type": "quantitative", "axis": null},
            "x": {"datum": 150, "type": "quantitative", "axis": null},
            "x2": {"datum": 165.3}
          }
        },
        {
          "data": {"name": "b_y_minor"},
          "mark": {"type": "rule", "color": "#333", "strokeWidth": 1},
          "encoding": {
            "y": {"field": "p", "type": "quantitative", "axis": null},
            "x": {"datum": 150, "type": "quantitative", "axis": null},
            "x2": {"datum": 157.6}
          }
        },
        {
          "data": {"name": "pressure"},
          "transform": [{"filter": "datum.series !== 'Model 2'"}],
          "mark": {"type": "line", "strokeWidth": 1.8, "clip": true},
          "encoding": {
            "x": {
              "field": "t", "type": "quantitative",
              "scale": {"domain": [150, 914], "nice": false, "zero": false},
              "axis": {"title": "Time (μs)", "orient": "bottom", "values": [200, 400, 600, 800], "titlePadding": 4}
            },
            "y": {
              "field": "p", "type": "quantitative",
              "scale": {"domain": [30, 195], "nice": false, "zero": false},
              "axis": {"title": "Pressure (kPa)", "orient": "left", "values": [50, 100, 150], "titlePadding": 17}
            },
            "color": {
              "field": "series", "type": "nominal",
              "scale": {"domain": ["Model combustor", "Model 1", "Model 2"], "range": ["#2ec82e", "#3434e6", "#cc2a2a"]},
              "legend": {"title": null, "orient": "none", "legendX": 61, "legendY": 4, "symbolSize": 7225, "clipHeight": 23, "rowPadding": 0, "labelOffset": 7}
            },
            "strokeDash": {
              "field": "series", "type": "nominal",
              "scale": {"domain": ["Model combustor", "Model 1", "Model 2"], "range": [[14, 8], [10, 4, 3, 4], [8, 3, 2, 3, 2, 3]]},
              "legend": {"title": null, "orient": "none", "legendX": 61, "legendY": 4, "symbolSize": 7225, "clipHeight": 23, "rowPadding": 0, "labelOffset": 7}
            }
          }
        },
        {
          "data": {"name": "pressure"},
          "transform": [{"filter": "datum.series === 'Model 2'"}],
          "mark": {"type": "line", "strokeWidth": 1.6, "clip": true},
          "encoding": {
            "x": {"field": "t", "type": "quantitative", "scale": {"domain": [150, 914], "nice": false, "zero": false}, "axis": null},
            "y": {"field": "p", "type": "quantitative", "scale": {"domain": [30, 195], "nice": false, "zero": false}, "axis": null},
            "color": {
              "field": "series", "type": "nominal",
              "scale": {"domain": ["Model combustor", "Model 1", "Model 2"], "range": ["#2ec82e", "#3434e6", "#cc2a2a"]},
              "legend": {"title": null, "orient": "none", "legendX": 61, "legendY": 4, "symbolSize": 7225, "clipHeight": 23, "rowPadding": 0, "labelOffset": 7}
            },
            "strokeDash": {
              "field": "series", "type": "nominal",
              "scale": {"domain": ["Model combustor", "Model 1", "Model 2"], "range": [[14, 8], [10, 4, 3, 4], [8, 3, 2, 3, 2, 3]]},
              "legend": {"title": null, "orient": "none", "legendX": 61, "legendY": 4, "symbolSize": 7225, "clipHeight": 23, "rowPadding": 0, "labelOffset": 7}
            }
          }
        },
        {
          "data": {"values": [{"panel": "(b)"}]},
          "mark": {"type": "text", "font": "Liberation Serif", "fontSize": 22, "fontStyle": "italic", "color": "black", "align": "left", "baseline": "middle"},
          "encoding": {
            "x": {"datum": 16.4, "type": "quantitative", "axis": null},
            "y": {"datum": 195, "type": "quantitative", "axis": null},
            "text": {"field": "panel"}
          }
        }
      ]
    }
  ]
}
